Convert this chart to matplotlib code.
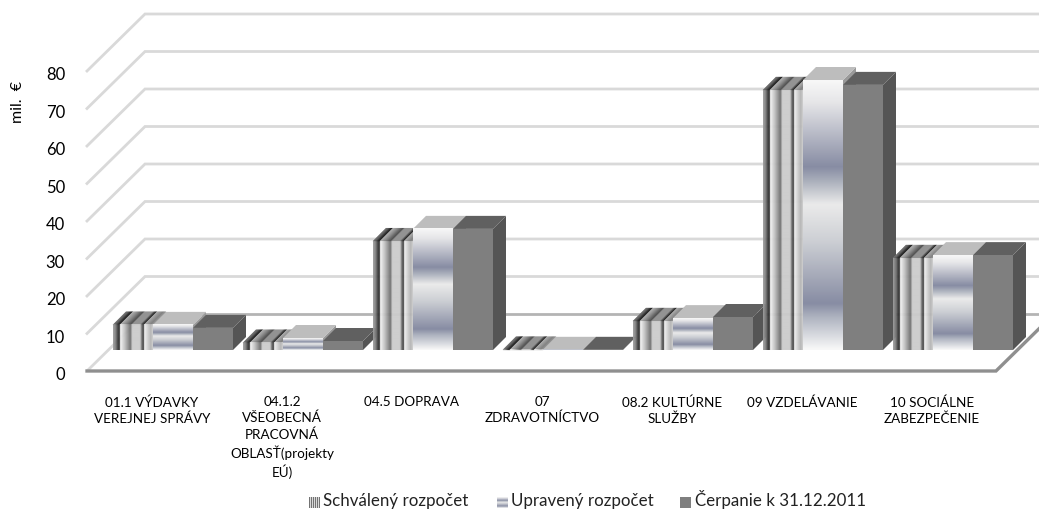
import matplotlib
matplotlib.use("Agg")
import matplotlib.pyplot as plt
import numpy as np

categories = ["01.1 VÝDAVKY\nVEREJNEJ SPRÁVY", "04.1.2\nVŠEOBECNÁ\nPRACOVNÁ\nOBLASŤ(projekty\nEÚ)",
              "04.5 DOPRAVA", "07\nZDRAVOTNÍCTVO", "08.2 KULTÚRNE\nSLUŽBY", "09 VZDELÁVANIE",
              "10 SOCIÁLNE\nZABEZPEČENIE"]
schvaleny = [6.7, 1.9, 29.0, 0.05, 7.7, 69.3, 24.5]
upraveny = [6.7, 3.2, 32.3, 0.05, 8.5, 72.0, 25.3]
cerpanie = [5.9, 2.4, 32.3, 0.05, 8.8, 70.7, 25.3]
series_names = ["Schválený rozpočet", "Upravený rozpočet", "Čerpanie k 31.12.2011"]
y_ticks = [0, 10, 20, 30, 40, 50, 60, 70, 80]

W, H = 1039, 511
FONT = "Lato"

# layout of the oblique projection, in figure pixels
X0, Y0 = 113, 371        # first bar left edge / front floor line (value 0)
PITCH = 130
PX_UNIT = 3.75           # pixels per mil. euro
BAR_W = 40 / PITCH
DX = 13 / PITCH          # bar depth
DY = 13 / PX_UNIT
BASE = 21 / PX_UNIT      # bars stand a bit behind the front line
WALL_DX = 58 / PITCH     # depth of the floor
WALL_DY = 57 / PX_UNIT


def xpx(x):
    return (x - X0) / PITCH


def ypx(y):
    return (Y0 - y) / PX_UNIT


# colour stops of the two gradient fills
stripe_pos = [0, .06, .12, .17, .175, .30, .44, .48, .68, .72, .78, .785, .95, 1]
stripe_val = [.62, .50, .22, .18, .97, .74, .42, .80, .80, .45, .15, .95, .70, .80]
band_pos = [0, .08, .32, .37, .46, .60, .83, .88, 1]
band_r = [.97, .90, .53, .66, .92, .80, .53, .68, .97]
band_g = [.97, .90, .55, .68, .92, .81, .55, .70, .97]
band_b = [.97, .91, .64, .73, .92, .83, .64, .75, .97]


def stripes(n=80):
    t = np.linspace(0, 1, n)
    return np.interp(t, stripe_pos, stripe_val)


def bands(n=120):
    t = np.linspace(0, 1, n)
    return np.dstack([np.interp(t, band_pos, c) for c in (band_r, band_g, band_b)]).reshape(n, 1, 3)


def draw_bar(ax, left, value, kind):
    right = left + BAR_W
    bottom = BASE
    top = BASE + value
    side_col = {0: "#666666", 1: "#9a9a9a", 2: "#555555"}[kind]
    ax.fill([right, right + DX, right + DX, right], [bottom, bottom + DY, top + DY, top],
            color=side_col, lw=0, zorder=3)
    if kind == 0:
        vals = stripes(40)
        edges = np.linspace(left, right, len(vals) + 1)
        for i, v in enumerate(vals):
            c = str(v * .72)
            ax.fill([edges[i], edges[i + 1], edges[i + 1] + DX, edges[i] + DX],
                    [top, top, top + DY, top + DY], color=c, lw=.4, zorder=3)
        ax.imshow(stripes().reshape(1, -1), cmap="gray", vmin=0, vmax=1, aspect="auto",
                  extent=(left, right, bottom, top), interpolation="bilinear", alpha=.95, zorder=4)
    elif kind == 1:
        ax.fill([left, right, right + DX, left + DX], [top, top, top + DY, top + DY],
                color="#bdbdbd", lw=0, zorder=3)
        ax.imshow(bands(), aspect="auto", extent=(left, right, bottom, top),
                  interpolation="bilinear", zorder=4)
    else:
        ax.fill([left, right, right + DX, left + DX], [top, top, top + DY, top + DY],
                color="#606060", lw=0, zorder=3)
        ax.fill([left, right, right, left], [bottom, bottom, top, top], color="#7f7f7f", lw=0, zorder=4)


fig = plt.figure(figsize=(W / 100, H / 100), dpi=100)
ax = fig.add_axes([0, 0, 1, 1])
ax.axis("off")

# walls: diagonal and back lines for every level
right_end = xpx(1060)
label_shift = 4 / PX_UNIT
for t in y_ticks:
    col = "#d9d9d9"
    lw = 2
    ax.text(xpx(65), t - label_shift, str(t), ha="right", va="center", fontsize=12, family=FONT, color="black")
    if t == 0:
        ax.plot([xpx(145), right_end], [WALL_DY, WALL_DY], color="#b4b4b4", lw=lw, zorder=1)
        ax.plot([xpx(87), xpx(87) + WALL_DX], [0, WALL_DY], color=col, lw=lw, zorder=1,
                solid_capstyle="butt")
        continue
    ax.plot([xpx(87), xpx(87) + WALL_DX, right_end], [t, t + WALL_DY, t + WALL_DY],
            color=col, lw=lw, zorder=1, solid_joinstyle="miter")

# floor front edge
ax.plot([xpx(87), xpx(996), xpx(996) + WALL_DX], [0, 0, WALL_DY], color="#8f8f8f", lw=2.4, zorder=2,
        solid_joinstyle="miter")

for i in range(len(categories)):
    left = i
    draw_bar(ax, left, schvaleny[i], 0)
    draw_bar(ax, left + BAR_W, upraveny[i], 1)
    draw_bar(ax, left + 2 * BAR_W, cerpanie[i], 2)
    ax.text(xpx(152) + i, ypx(396), categories[i], ha="center", va="top", fontsize=9.7,
            family=FONT, linespacing=1.38, color="black")

ax.text(xpx(18), ypx(102), "mil.  €", rotation=90, ha="center", va="center", fontsize=11.5,
        family=FONT, color="black")

# legend
swatch_x = [309, 497, 680]
text_x = [323, 511, 695]
for k in range(3):
    ext = (xpx(swatch_x[k]), xpx(swatch_x[k] + 11), ypx(508), ypx(497))
    if k == 0:
        pat = np.tile([.45, .85, .45, .85, .45, .85, .45, .85, .45, .85, .45], (1, 1))
        ax.imshow(pat, cmap="gray", vmin=0, vmax=1, aspect="auto", extent=ext, interpolation="nearest", zorder=5)
    elif k == 1:
        ax.imshow(bands(), aspect="auto", extent=ext, interpolation="bilinear", zorder=5)
    else:
        ax.imshow(np.full((1, 1, 3), .5), aspect="auto", extent=ext, zorder=5)
    ax.text(xpx(text_x[k]), ypx(506), series_names[k], ha="left", va="baseline", fontsize=12.2,
            family=FONT, color="#222222")

ax.set_xlim(xpx(0), xpx(W))
ax.set_ylim(ypx(H), ypx(0))
fig.savefig("out.png", dpi=100)
